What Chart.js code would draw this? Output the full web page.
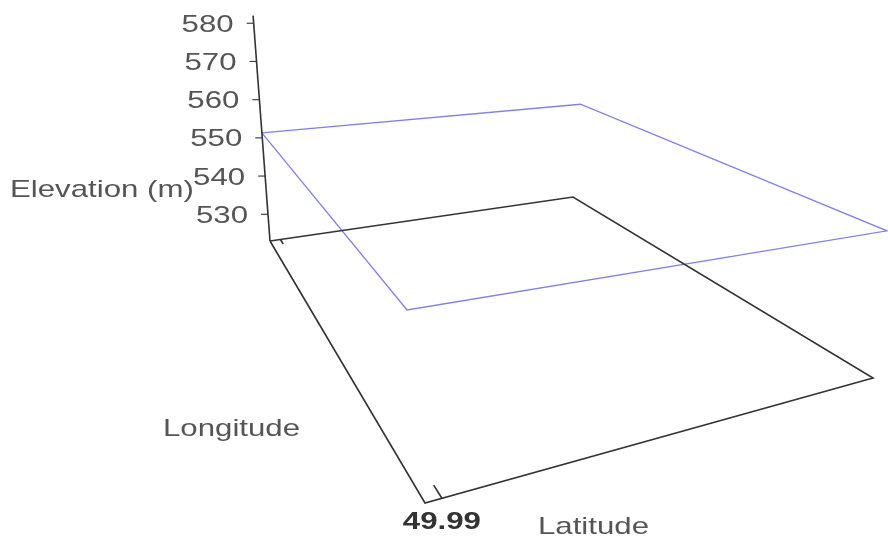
<!DOCTYPE html>
<html lang="en">
<head>
<meta charset="UTF-8">
<title>Elevation surface</title>
<script src="https://cdn.jsdelivr.net/npm/chart.js"></script>
<style>
    body { margin: 0; background: #fff; }
    #box { width: 888px; height: 546px; }
</style>
</head>
<body>
<div id="box"><canvas id="surface" width="888" height="546"></canvas></div>
<script>
    // ----- data -----
    const latitudes = [49.9897, 49.9997];
    const longitudes = [8.681, 8.689];      // no longitude tick labels are shown
    const elevation = [                      // rows = longitude, cols = latitude
        [551.3, 551.0],
        [552.0, 551.0]
    ];
    const elevTicks = [530, 540, 550, 560, 570, 580];
    const latTicks = [49.99];
    const floorElev = 523;
    const axisTopElev = 582;

    // ----- view (where the box floor sits on screen) -----
    const floorCorners = [[270, 241], [573, 197], [873, 378], [425, 503]];
    const zScale = 3.82;                     // px per metre at the back corner
    const lean = [-0.075, 0.08, 0.095, -0.093];

    function squareToQuad(q) {
        const [x0, y0] = q[0], [x1, y1] = q[1], [x2, y2] = q[2], [x3, y3] = q[3];
        const dx1 = x1 - x2, dx2 = x3 - x2, dx3 = x0 - x1 + x2 - x3;
        const dy1 = y1 - y2, dy2 = y3 - y2, dy3 = y0 - y1 + y2 - y3;
        const det = dx1 * dy2 - dx2 * dy1;
        const g = (dx3 * dy2 - dx2 * dy3) / det;
        const h = (dx1 * dy3 - dx3 * dy1) / det;
        return { a: x1 - x0 + g * x1, b: x3 - x0 + h * x3, c: x0,
                 d: y1 - y0 + g * y1, e: y3 - y0 + h * y3, f: y0, g: g, h: h };
    }
    const H = squareToQuad(floorCorners);

    function project(lat, lon, elev) {
        const u = (lat - latitudes[0]) / (latitudes[1] - latitudes[0]);
        const v = (lon - longitudes[0]) / (longitudes[1] - longitudes[0]);
        const w = H.g * u + H.h * v + 1;
        const bx = (H.a * u + H.b * v + H.c) / w;
        const by = (H.d * u + H.e * v + H.f) / w;
        const rise = (elev - floorElev) * zScale / w;
        const l = lean[0] * (1 - u) * (1 - v) + lean[1] * u * (1 - v) + lean[2] * u * v + lean[3] * (1 - u) * v;
        return { x: bx + l * rise, y: by - rise };
    }

    const lat0 = latitudes[0], lat1 = latitudes[1];
    const lon0 = longitudes[0], lon1 = longitudes[1];

    const floorLine = [
        project(lat0, lon0, floorElev), project(lat1, lon0, floorElev),
        project(lat1, lon1, floorElev), project(lat0, lon1, floorElev),
        project(lat0, lon0, floorElev)
    ];
    const axisLine = [project(lat0, lon0, floorElev), project(lat0, lon0, axisTopElev)];
    const surfaceLine = [
        project(lat0, lon0, elevation[0][0]), project(lat1, lon0, elevation[0][1]),
        project(lat1, lon1, elevation[1][1]), project(lat0, lon1, elevation[1][0]),
        project(lat0, lon0, elevation[0][0])
    ];

    function lineSet(data, color, width) {
        return {
            data: data, showLine: true, borderColor: color, borderWidth: width,
            pointRadius: 0, tension: 0, clip: false, fill: false
        };
    }

    const datasets = [
        lineSet(floorLine, '#333', 1.6),
        lineSet(axisLine, '#333', 1.6)
    ];
    elevTicks.forEach(function (t) {
        const p = project(lat0, lon0, t);
        datasets.push(lineSet([{ x: p.x - 7, y: p.y }, { x: p.x, y: p.y }], '#444', 1.2));
    });
    const dv = (lon1 - lon0) * 0.03;
    latTicks.forEach(function (t) {
        datasets.push(lineSet([project(t, lon1, floorElev), project(t, lon1 - dv, floorElev)], '#333', 1.6));
        datasets.push(lineSet([project(t, lon0, floorElev), project(t, lon0 + dv, floorElev)], '#333', 1.6));
    });
    datasets.push(lineSet(surfaceLine, 'rgba(105,105,230,0.85)', 1.3));

    function stretchText(ctx, text, x, y, align) {
        ctx.save();
        ctx.translate(x, y);
        ctx.scale(1.3, 1);
        ctx.textAlign = align;
        ctx.fillText(text, 0, 0);
        ctx.restore();
    }

    const labelsPlugin = {
        id: 'labels3d',
        afterDraw: function (chart) {
            const ctx = chart.ctx;
            const sx = chart.scales.x, sy = chart.scales.y;
            ctx.save();
            ctx.textBaseline = 'alphabetic';
            ctx.font = '24px "Liberation Sans", Arial, sans-serif';
            ctx.fillStyle = '#555';
            elevTicks.forEach(function (t) {
                const p = project(lat0, lon0, t);
                stretchText(ctx, String(t), sx.getPixelForValue(p.x) - 20, sy.getPixelForValue(p.y) + 8.5, 'right');
            });
            stretchText(ctx, 'Elevation (m)', 10, 197, 'left');
            stretchText(ctx, 'Longitude', 163, 436, 'left');
            stretchText(ctx, 'Latitude', 538, 534, 'left');
            ctx.font = 'bold 24px "Liberation Sans", Arial, sans-serif';
            ctx.fillStyle = '#333';
            latTicks.forEach(function (t) {
                const p = project(t, lon1, floorElev);
                stretchText(ctx, t.toFixed(2), sx.getPixelForValue(p.x), sy.getPixelForValue(p.y) + 31, 'center');
            });
            ctx.restore();
        }
    };

    new Chart(document.getElementById('surface'), {
        type: 'scatter',
        data: { datasets: datasets },
        options: {
            responsive: false,
            animation: false,
            layout: { padding: 0 },
            plugins: { legend: { display: false }, tooltip: { enabled: false } },
            scales: {
                x: { type: 'linear', min: 0, max: 888, display: false },
                y: { type: 'linear', min: 0, max: 546, reverse: true, display: false }
            }
        },
        plugins: [labelsPlugin]
    });
</script>
</body>
</html>
